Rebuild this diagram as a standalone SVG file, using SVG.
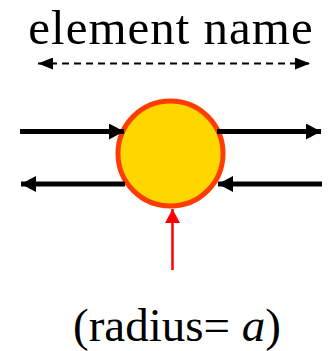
<svg xmlns="http://www.w3.org/2000/svg" width="331" height="351" viewBox="0 0 331 351">
  <defs>
    <style>
      .lbl { fill: #000; }
      .thick { stroke: #000; stroke-width: 5; fill: none; }
      .dash { stroke: #000; stroke-width: 2; stroke-dasharray: 7 5; fill: none; }
      .red { stroke: #FF0000; stroke-width: 2.5; fill: none; }
    </style>
    <marker id="ah" markerUnits="userSpaceOnUse" markerWidth="16" markerHeight="16" refX="15" refY="8" orient="auto">
      <path d="M0,0 L15,8 L0,16 Z" fill="#000"/>
    </marker>
    <marker id="ahd" markerUnits="userSpaceOnUse" markerWidth="16" markerHeight="12" refX="15" refY="6" orient="auto-start-reverse">
      <path d="M0,0 L15,6 L0,12 Z" fill="#000"/>
    </marker>
    <marker id="ahr" markerUnits="userSpaceOnUse" markerWidth="16" markerHeight="15" refX="14" refY="7.5" orient="auto">
      <path d="M0,0 L14,7.5 L0,15 Z" fill="#FF0000"/>
    </marker>
  </defs>
  <g id="node-element">
    <circle cx="170.5" cy="153.5" r="52.5" fill="#FFD700" stroke="#FF3C00" stroke-width="5"/>
  </g>
  <g id="connectors">
    <line class="dash" x1="38" y1="63.5" x2="310" y2="63.5" marker-start="url(#ahd)" marker-end="url(#ahd)"/>
    <line class="thick" x1="20" y1="131.5" x2="124" y2="131.5" marker-end="url(#ah)"/>
    <line class="thick" x1="217" y1="131.5" x2="321" y2="131.5" marker-end="url(#ah)"/>
    <line class="thick" x1="125" y1="184" x2="21" y2="184" marker-end="url(#ah)"/>
    <line class="thick" x1="322" y1="184" x2="218" y2="184" marker-end="url(#ah)"/>
    <line class="red" x1="172.5" y1="270" x2="172.5" y2="209" marker-end="url(#ahr)"/>
  </g>
  <g id="label-name">
    <text class="lbl" x="171" y="44" font-family="Liberation Serif" font-size="49" letter-spacing="1" text-anchor="middle">element name</text>
  </g>
  <g id="label-radius">
    <text class="lbl" x="73" y="340.5" font-family="Liberation Serif" font-size="47">(radius= <tspan font-style="italic">a</tspan>)</text>
  </g>
</svg>
